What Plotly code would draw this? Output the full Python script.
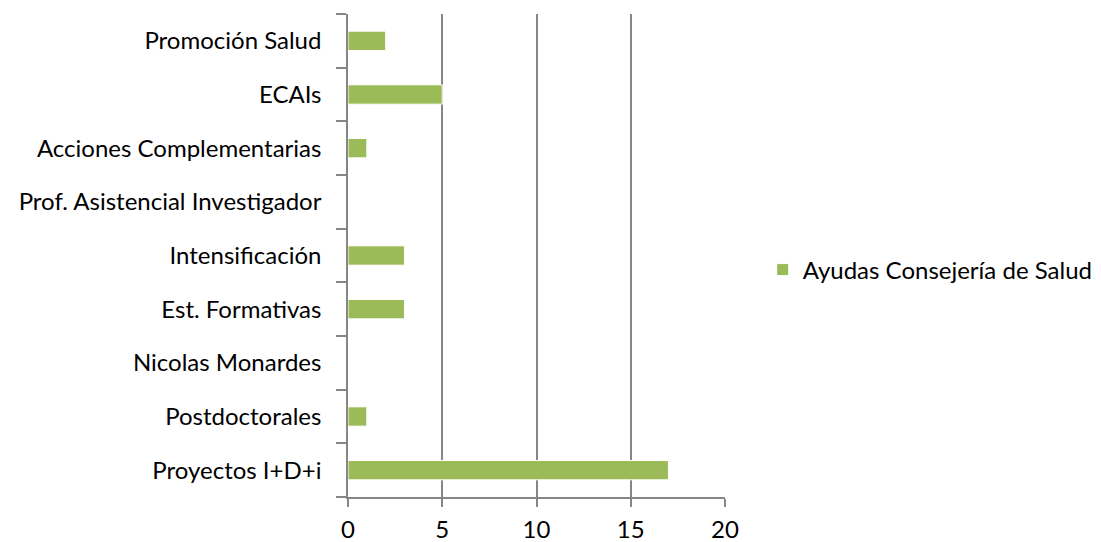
import plotly.graph_objects as go

categories = ["Promoción Salud", "ECAIs", "Acciones Complementarias",
              "Prof. Asistencial Investigador", "Intensificación", "Est. Formativas",
              "Nicolas Monardes", "Postdoctorales", "Proyectos I+D+i"]
values = [2, 5, 1, 0, 3, 3, 0, 1, 17]
series_name = "Ayudas Consejería de Salud"
x_ticks = [0, 5, 10, 15, 20]

axis_color = "#868686"
font = dict(family="Lato, Carlito, Calibri, sans-serif", size=24, color="#000000")

fig = go.Figure()
fig.add_trace(go.Bar(
    y=categories, x=values, orientation="h", name=series_name,
    marker=dict(color="#9BBB59", line=dict(color="#FFFFFF", width=1)),
    showlegend=True,
))

fig.update_layout(
    width=1101, height=542,
    margin=dict(l=348, r=376, t=14, b=45, autoexpand=False),
    paper_bgcolor="white", plot_bgcolor="white",
    font=font,
    bargap=0.64,
    showlegend=True,
    legend=dict(x=0.10, y=0.47, xanchor="left", yanchor="middle",
                font=font, itemwidth=30, bgcolor="rgba(0,0,0,0)"),
    xaxis=dict(range=[0, 20], tickvals=x_ticks, showgrid=True, gridcolor=axis_color,
               gridwidth=1.5, showline=True, linecolor=axis_color, linewidth=1.5,
               ticks="outside", ticklen=8, tickcolor=axis_color, tickwidth=1.5,
               zeroline=False, tickfont=font, automargin=False,
               ticklabelstandoff=2),
    yaxis=dict(categoryorder="array", categoryarray=categories[::-1],
               showline=True, linecolor=axis_color, linewidth=1.5,
               ticks="outside", ticklen=10, tickcolor=axis_color, tickwidth=1.5,
               tickson="boundaries", showgrid=False, tickfont=font,
               ticklabelstandoff=20, automargin=False),
)
fig.update_layout(legend_x=1.10)

fig.write_html("out.html", config={"displayModeBar": False},
               post_script="document.body.style.margin='0';document.body.style.overflow='hidden';")
